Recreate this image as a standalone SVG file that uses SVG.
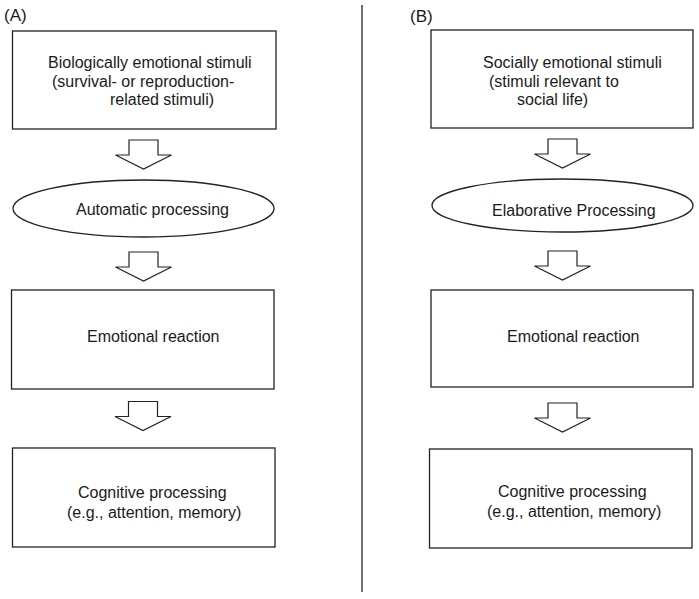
<svg xmlns="http://www.w3.org/2000/svg" width="699" height="599" viewBox="0 0 699 599">
<defs>
<style>
.box{fill:#fff;stroke:#222;stroke-width:1.3}
.arr{fill:#fff;stroke:#222;stroke-width:1.2;stroke-linejoin:miter}
.t{font-family:"Liberation Sans",Arial,sans-serif;font-size:16px;fill:#1a1a1a}
.lab{font-family:"Liberation Sans",Arial,sans-serif;font-size:17px;fill:#1a1a1a}
.div{stroke:#222;stroke-width:1.3}
</style>
<path id="blockArrow" d="M-14.5,0 H14.5 V15 H28 L0,29 L-28,15 H-14.5 Z"/>
</defs>
<rect width="699" height="599" fill="#fff"/>
<line class="div" x1="362" y1="5" x2="362" y2="592"/>
<text class="lab" x="4" y="21">(A)</text>
<text class="lab" x="410" y="22">(B)</text>
<g id="connectors">
<use href="#blockArrow" class="arr" transform="translate(143.5,140)"/>
<use href="#blockArrow" class="arr" transform="translate(143.5,252)"/>
<use href="#blockArrow" class="arr" transform="translate(143,401.5)"/>
<use href="#blockArrow" class="arr" transform="translate(562.5,139)"/>
<use href="#blockArrow" class="arr" transform="translate(562.5,251)"/>
<use href="#blockArrow" class="arr" transform="translate(562.5,403)"/>
</g>
<g id="a-bio">
<rect class="box" x="12.5" y="31" width="263.5" height="98"/>
<text class="t" x="48" y="68">Biologically emotional stimuli</text>
<text class="t" x="52" y="87">(survival- or reproduction-</text>
<text class="t" x="110" y="105">related stimuli)</text>
</g>
<g id="a-auto">
<ellipse class="box" cx="143.5" cy="208.5" rx="130.5" ry="28.5"/>
<text class="t" x="76" y="215">Automatic processing</text>
</g>
<g id="a-emo">
<rect class="box" x="11.5" y="290" width="262.5" height="99"/>
<text class="t" x="87" y="342">Emotional reaction</text>
</g>
<g id="a-cog">
<rect class="box" x="12.5" y="448" width="262.5" height="99"/>
<text class="t" x="78" y="498">Cognitive processing</text>
<text class="t" x="67" y="518">(e.g., attention, memory)</text>
</g>
<g id="b-soc">
<rect class="box" x="431" y="30" width="262" height="98"/>
<text class="t" x="483" y="68">Socially emotional stimuli</text>
<text class="t" x="489" y="87">(stimuli relevant to</text>
<text class="t" x="517" y="105">social life)</text>
</g>
<g id="b-elab">
<ellipse class="box" cx="562.5" cy="205.5" rx="130.5" ry="26.5"/>
<text class="t" x="492" y="216">Elaborative Processing</text>
</g>
<g id="b-emo">
<rect class="box" x="431" y="290" width="262" height="97"/>
<text class="t" x="507" y="342">Emotional reaction</text>
</g>
<g id="b-cog">
<rect class="box" x="429.5" y="449" width="262.5" height="99"/>
<text class="t" x="498" y="497">Cognitive processing</text>
<text class="t" x="487" y="517">(e.g., attention, memory)</text>
</g>
</svg>
